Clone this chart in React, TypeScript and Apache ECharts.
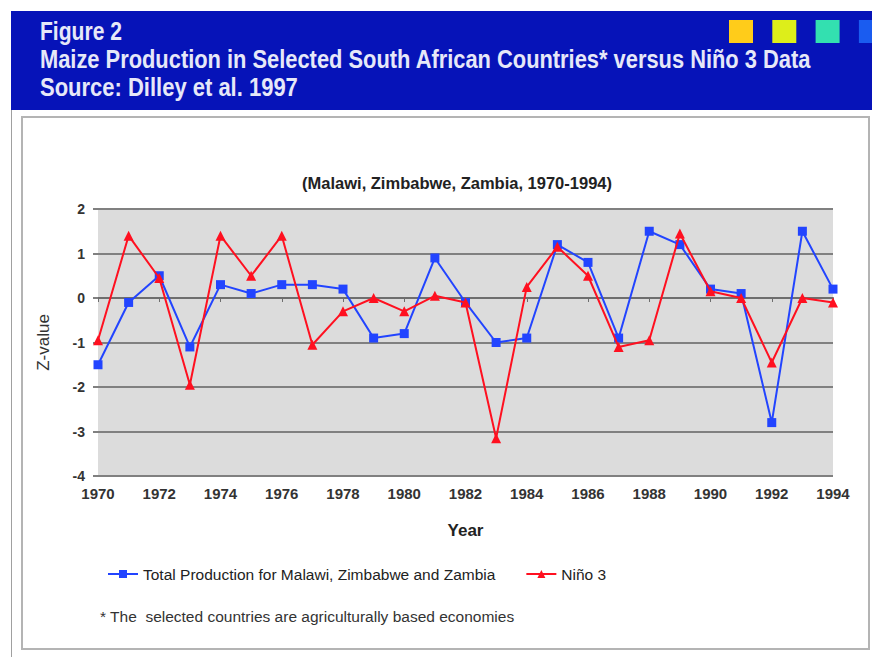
import React, { useEffect, useRef } from "react";
import * as echarts from "echarts";

const years = [1970, 1971, 1972, 1973, 1974, 1975, 1976, 1977, 1978, 1979, 1980, 1981, 1982, 1983, 1984, 1985, 1986, 1987, 1988, 1989, 1990, 1991, 1992, 1993, 1994];
const production = [-1.5, -0.1, 0.5, -1.1, 0.3, 0.1, 0.3, 0.3, 0.2, -0.9, -0.8, 0.9, -0.1, -1.0, -0.9, 1.2, 0.8, -0.9, 1.5, 1.2, 0.2, 0.1, -2.8, 1.5, 0.2];
const nino3 = [-0.95, 1.4, 0.45, -1.95, 1.4, 0.5, 1.4, -1.05, -0.3, 0.0, -0.3, 0.05, -0.1, -3.15, 0.25, 1.15, 0.5, -1.1, -0.95, 1.45, 0.15, 0.0, -1.45, 0.0, -0.1];
const seriesNames = ["Total Production for Malawi, Zimbabwe and Zambia", "Niño 3"];
const headerLines = [
  "Figure 2",
  "Maize Production in Selected South African Countries* versus Niño 3 Data",
  "Source: Dilley et al. 1997",
];
const chartSubtitle = "(Malawi, Zimbabwe, Zambia, 1970-1994)";
const footnote = "* The  selected countries are agriculturally based economies";
const swatchColors = ["#FFCC1A", "#DDEE1A", "#33E0B0", "#1A5CF0"];

const FONT = "'Liberation Sans', Arial, sans-serif";

function measure(text: string, font: string): number {
  const c = document.createElement("canvas").getContext("2d");
  if (!c) return text.length * 10;
  c.font = font;
  return c.measureText(text).width;
}

export default function App() {
  const ref = useRef<HTMLDivElement>(null);

  useEffect(() => {
    if (!ref.current) return;
    const chart = echarts.init(ref.current, null, { renderer: "svg" });

    const headerFontSize = 25;
    const headerFont = `bold ${headerFontSize}px 'Liberation Sans'`;
    const headerTargets = [82, 772, 258];
    const headerBaselines = [40, 68, 97];
    const headerTexts = headerLines.map((t, i) => {
      const w = measure(t, headerFont);
      const sx = headerTargets[i] / w;
      return {
        type: "text",
        x: 40,
        y: headerBaselines[i] - headerFontSize * 0.36,
        scaleX: sx,
        style: {
          text: t,
          fontSize: headerFontSize,
          fontWeight: "bold",
          fontFamily: FONT,
          fill: "#E6E8F8",
          align: "left",
          verticalAlign: "middle",
        },
      };
    });

    const swatches = swatchColors.map((c, i) => ({
      type: "rect",
      shape: { x: 729 + i * 43.3, y: 20, width: 24, height: 23 },
      style: { fill: c },
    }));

    chart.setOption({
      animation: false,
      backgroundColor: "#FFFFFF",
      grid: {
        left: 98,
        right: 39,
        top: 209,
        bottom: 181,
        show: true,
        backgroundColor: "#DCDCDC",
        borderWidth: 0,
      },
      xAxis: {
        type: "value",
        min: 1970,
        max: 1994,
        interval: 2,
        axisLine: { show: true, lineStyle: { color: "#6E6E6E", width: 2 } },
        axisTick: { show: true, length: 4, lineStyle: { color: "#6E6E6E", width: 1 } },
        splitLine: { show: false },
        axisLabel: {
          formatter: (v: number) => String(v),
          fontSize: 15,
          fontWeight: "bold",
          fontFamily: FONT,
          color: "#333333",
          margin: 10,
        },
        name: "Year",
        nameLocation: "middle",
        nameGap: 46,
        nameTextStyle: { fontSize: 17, fontWeight: "bold", fontFamily: FONT, color: "#222222" },
      },
      yAxis: {
        type: "value",
        min: -4,
        max: 2,
        interval: 1,
        axisLine: { show: false },
        axisTick: { show: true, length: 5, lineStyle: { color: "#808080", width: 2 } },
        splitLine: { show: true, lineStyle: { color: "#808080", width: 2 } },
        axisLabel: {
          fontSize: 14,
          fontWeight: "bold",
          fontFamily: FONT,
          color: "#333333",
          margin: 13,
        },
        name: "Z-value",
        nameLocation: "middle",
        nameGap: 46,
        nameTextStyle: { fontSize: 17, fontFamily: FONT, color: "#333333" },
      },
      legend: {
        left: 102,
        top: 561,
        itemWidth: 30,
        itemHeight: 10,
        itemGap: 30,
        textStyle: { fontSize: 15.5, fontFamily: FONT, color: "#222222" },
        data: seriesNames,
      },
      series: [
        {
          name: seriesNames[0],
          type: "line",
          data: years.map((y, i) => [y, production[i]]),
          symbol: "rect",
          symbolSize: 9,
          color: "#2244FF",
          lineStyle: { width: 2, color: "#2244FF" },
          itemStyle: { color: "#2244FF" },
          z: 3,
        },
        {
          name: seriesNames[1],
          type: "line",
          data: years.map((y, i) => [y, nino3[i]]),
          symbol: "triangle",
          symbolSize: 10,
          color: "#FF1020",
          lineStyle: { width: 2, color: "#FF1020" },
          itemStyle: { color: "#FF1020" },
          z: 4,
        },
      ],
      graphic: [
        {
          type: "rect",
          shape: { x: 11, y: 11, width: 861, height: 99 },
          style: { fill: "#0613B8" },
        },
        ...swatches,
        ...headerTexts,
        {
          type: "line",
          shape: { x1: 11.5, y1: 110, x2: 11.5, y2: 657 },
          style: { stroke: "#A0A0A0", lineWidth: 1 },
        },
        {
          type: "rect",
          shape: { x: 22, y: 117, width: 847, height: 532 },
          style: { fill: "none", stroke: "#B4B4B4", lineWidth: 2 },
        },
        {
          type: "text",
          x: 457,
          y: 183,
          style: {
            text: chartSubtitle,
            fontSize: 16.5,
            fontWeight: "bold",
            fontFamily: FONT,
            fill: "#222222",
            align: "center",
            verticalAlign: "middle",
          },
        },
        {
          type: "text",
          x: 100,
          y: 616,
          style: {
            text: footnote,
            fontSize: 15.5,
            fontFamily: FONT,
            fill: "#333333",
            align: "left",
            verticalAlign: "middle",
          },
        },
      ],
    });

    return () => chart.dispose();
  }, []);

  return (
    <div
      ref={ref}
      style={{ position: "fixed", left: 0, top: 0, width: 872, height: 657, background: "#FFFFFF" }}
    />
  );
}
